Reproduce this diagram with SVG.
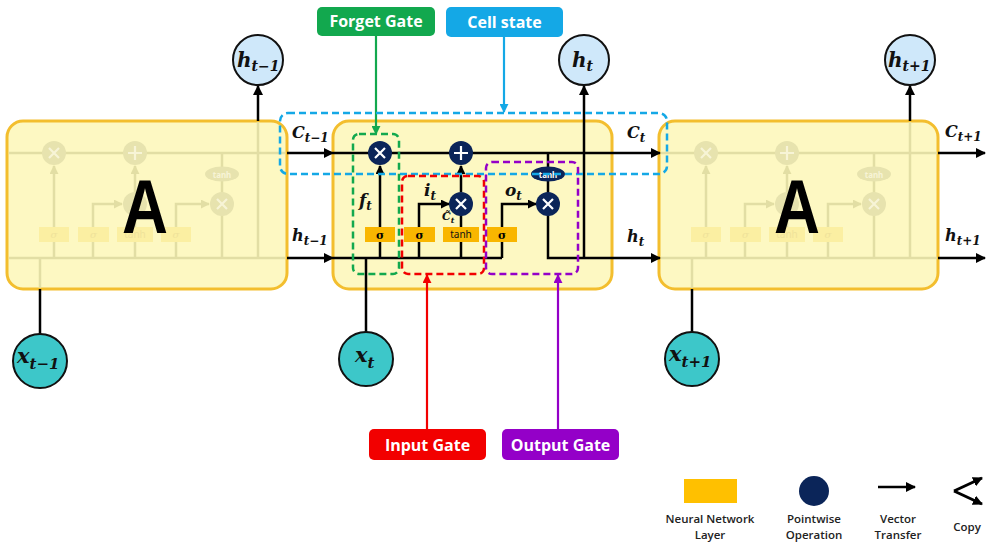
<svg xmlns="http://www.w3.org/2000/svg" xmlns:xlink="http://www.w3.org/1999/xlink" width="987" height="543" viewBox="0 0 987 543">
<style>
.box{fill:#FDF8C2;stroke:#F3BE2E;stroke-width:3}
.ln{fill:none;stroke:#000;stroke-width:2.5}
.fl{fill:none;stroke:#E2DEA4;stroke-width:2.5}
.op{fill:#0B2559}
.fop{fill:#E7E3AE}
.sym{stroke:#fff;stroke-width:2.2;fill:none}
.fsym{stroke:#F7F4D6;stroke-width:2.2;fill:none}
.sg{fill:#F9B600}
.fsg{fill:#FBEFA2}
.math{font-family:"DejaVu Serif","Liberation Serif",serif;font-weight:bold;font-style:italic;fill:#111}
.lbl{font-family:"Open Sans","Noto Sans",sans-serif;font-weight:bold;font-size:16px;fill:#fff;text-anchor:middle}
.leg{font-family:"Open Sans","Noto Sans",sans-serif;font-weight:600;font-size:11.5px;fill:#222;text-anchor:middle}
.hc{fill:#CFE8FA;stroke:#111;stroke-width:2}
.xc{fill:#3DC7C9;stroke:#111;stroke-width:2}
.dash{fill:none;stroke-width:2.5;stroke-dasharray:7 4}
</style>
<defs>
<marker id="ah" viewBox="0 0 10 10" refX="9" refY="5" markerWidth="10" markerHeight="10" markerUnits="userSpaceOnUse" orient="auto"><path d="M0,0 L10,5 L0,10 z" fill="#000"/></marker>
<marker id="ahs" viewBox="0 0 10 10" refX="9" refY="5" markerWidth="9" markerHeight="9" markerUnits="userSpaceOnUse" orient="auto"><path d="M0,0 L10,5 L0,10 z" fill="#000"/></marker>
<marker id="ahf" viewBox="0 0 10 10" refX="9" refY="5" markerWidth="9" markerHeight="9" markerUnits="userSpaceOnUse" orient="auto"><path d="M0,0 L10,5 L0,10 z" fill="#E2DEA4"/></marker>
<marker id="ahg" viewBox="0 0 10 10" refX="9" refY="5" markerWidth="9" markerHeight="9" markerUnits="userSpaceOnUse" orient="auto"><path d="M0,0 L10,5 L0,10 z" fill="#12A84E"/></marker>
<marker id="ahb" viewBox="0 0 10 10" refX="9" refY="5" markerWidth="9" markerHeight="9" markerUnits="userSpaceOnUse" orient="auto"><path d="M0,0 L10,5 L0,10 z" fill="#14A8E6"/></marker>
<marker id="ahr" viewBox="0 0 10 10" refX="9" refY="5" markerWidth="9" markerHeight="9" markerUnits="userSpaceOnUse" orient="auto"><path d="M0,0 L10,5 L0,10 z" fill="#F20000"/></marker>
<marker id="ahp" viewBox="0 0 10 10" refX="9" refY="5" markerWidth="9" markerHeight="9" markerUnits="userSpaceOnUse" orient="auto"><path d="M0,0 L10,5 L0,10 z" fill="#9400C8"/></marker>
<g id="faded">
<path class="fl" d="M335,153 L611,153 M335,258 L611,258 M584,122 L584,258 M366,258 L366,288 M548,153 L548,258"/>
<path class="fl" d="M380,258 L380,166" marker-end="url(#ahf)"/>
<path class="fl" d="M419,258 L419,204 L448,204" marker-end="url(#ahf)"/>
<path class="fl" d="M461,258 L461,166" marker-end="url(#ahf)"/>
<path class="fl" d="M502,258 L502,204 L535,204" marker-end="url(#ahf)"/>
<circle class="fop" cx="380" cy="153" r="12"/><path class="fsym" d="M375,148 L385,158 M385,148 L375,158"/>
<circle class="fop" cx="461" cy="153" r="12"/><path class="fsym" d="M461,146 L461,160 M454,153 L468,153"/>
<circle class="fop" cx="461" cy="204" r="12"/>
<circle class="fop" cx="548" cy="204" r="12"/><path class="fsym" d="M543,199 L553,209 M553,199 L543,209"/>
<ellipse class="fop" cx="548" cy="174" rx="17" ry="7.5"/>
<text x="548" y="177.5" font-family="Noto Sans,sans-serif" font-size="8" font-weight="bold" fill="#F7F4D6" text-anchor="middle">tanh</text>
<rect class="fsg" x="365" y="227" width="30" height="15"/>
<rect class="fsg" x="404" y="227" width="31" height="15"/>
<rect class="fsg" x="443" y="227" width="36" height="15"/>
<rect class="fsg" x="487" y="227" width="30" height="15"/>
<g font-family="DejaVu Serif,serif" font-size="10" font-style="italic" fill="#EFE29A" text-anchor="middle">
<text x="380" y="238">σ</text><text x="419.5" y="238">σ</text><text x="461" y="238" font-style="normal" font-family="Noto Sans,sans-serif">tanh</text><text x="502" y="238">σ</text></g>
</g>
</defs>

<g id="cell-prev">
<rect class="box" x="7" y="121" width="280" height="168" rx="16"/>
<use xlink:href="#faded" transform="translate(-326,0)"/>
<text x="145" y="233" font-family="Liberation Sans,Arial,sans-serif" font-weight="bold" font-size="76" textLength="46" lengthAdjust="spacingAndGlyphs" text-anchor="middle">A</text>
</g>

<g id="cell-next">
<rect class="box" x="659" y="121" width="279" height="168" rx="16"/>
<use xlink:href="#faded" transform="translate(326,0)"/>
<text x="797" y="233" font-family="Liberation Sans,Arial,sans-serif" font-weight="bold" font-size="76" textLength="46" lengthAdjust="spacingAndGlyphs" text-anchor="middle">A</text>
</g>

<g id="cell-current">
<rect class="box" x="333" y="121" width="279" height="168" rx="16"/>
</g>

<g id="connectors">
<path class="ln" d="M287,153 L333,153" marker-end="url(#ah)"/>
<path class="ln" d="M333,153 L660,153" marker-end="url(#ah)"/>
<path class="ln" d="M938,153 L985,153" marker-end="url(#ah)"/>
<path class="ln" d="M287,258 L333,258" marker-end="url(#ah)"/>
<path class="ln" d="M333,258 L502,258"/>
<path class="ln" d="M938,258 L985,258" marker-end="url(#ah)"/>
<path class="ln" d="M380,258 L380,166" marker-end="url(#ahs)"/>
<path class="ln" d="M419,258 L419,204 L449,204" marker-end="url(#ahs)"/>
<path class="ln" d="M461,258 L461,214"/>
<path class="ln" d="M461,192 L461,166" marker-end="url(#ahs)"/>
<path class="ln" d="M502,258 L502,204 L536,204" marker-end="url(#ahs)"/>
<path class="ln" d="M548,153 L548,194"/>
<path class="ln" d="M548,214 L548,258 L660,258" marker-end="url(#ah)"/>
<path class="ln" d="M584,258 L584,86" marker-end="url(#ah)"/>
<path class="ln" d="M258,121 L258,86" marker-end="url(#ah)"/>
<path class="ln" d="M910,121 L910,86" marker-end="url(#ah)"/>
<path class="ln" d="M40,289 L40,334"/>
<path class="ln" d="M366,258 L366,332"/>
<path class="ln" d="M692,289 L692,332"/>
<path d="M376,36 L376,134" stroke="#12A84E" stroke-width="2.2" fill="none" marker-end="url(#ahg)"/>
<path d="M504,37 L504,112" stroke="#14A8E6" stroke-width="2.2" fill="none" marker-end="url(#ahb)"/>
<path d="M427,429 L427,275" stroke="#F20000" stroke-width="2.2" fill="none" marker-end="url(#ahr)"/>
<path d="M558,429 L558,275" stroke="#9400C8" stroke-width="2.2" fill="none" marker-end="url(#ahp)"/>
</g>

<g id="forget-mult"><circle class="op" cx="380" cy="153" r="12"/><path class="sym" d="M375,148 L385,158 M385,148 L375,158"/></g>
<g id="cell-add"><circle class="op" cx="461" cy="153" r="12"/><path class="sym" d="M461,146 L461,160 M454,153 L468,153"/></g>
<g id="input-mult"><circle class="op" cx="461" cy="204" r="12"/><path class="sym" d="M456,199 L466,209 M466,199 L456,209"/></g>
<g id="output-mult"><circle class="op" cx="548" cy="204" r="12"/><path class="sym" d="M543,199 L553,209 M553,199 L543,209"/></g>
<g id="tanh-op"><ellipse class="op" cx="548" cy="174" rx="17" ry="7.5"/><text x="548" y="177.5" font-family="Noto Sans,sans-serif" font-size="8" font-weight="bold" fill="#fff" text-anchor="middle">tanh</text></g>
<g id="sigma-f"><rect class="sg" x="365" y="227" width="30" height="15"/><text x="380" y="238.5" font-family="DejaVu Serif,serif" font-weight="bold" font-size="11" text-anchor="middle">σ</text></g>
<g id="sigma-i"><rect class="sg" x="404" y="227" width="31" height="15"/><text x="419.5" y="238.5" font-family="DejaVu Serif,serif" font-weight="bold" font-size="11" text-anchor="middle">σ</text></g>
<g id="tanh-layer"><rect class="sg" x="443" y="227" width="36" height="15"/><text x="461" y="238" font-family="Noto Sans,sans-serif" font-size="10" fill="#111" text-anchor="middle">tanh</text></g>
<g id="sigma-o"><rect class="sg" x="487" y="227" width="30" height="15"/><text x="502" y="238.5" font-family="DejaVu Serif,serif" font-weight="bold" font-size="11" text-anchor="middle">σ</text></g>

<g id="gate-labels-math" class="math">
<text x="359" y="206" font-size="17">f<tspan font-size="12" dy="4">t</tspan></text>
<text x="424" y="196" font-size="17">i<tspan font-size="12" dy="4">t</tspan></text>
<text x="505" y="196" font-size="17">o<tspan font-size="12" dy="4">t</tspan></text>
<text x="442" y="220" font-size="11">C̃<tspan font-size="8" dy="3">t</tspan></text>
<text x="292" y="138" font-size="16">C<tspan font-size="12" dy="4">t−1</tspan></text>
<text x="292" y="241" font-size="16">h<tspan font-size="12" dy="4">t−1</tspan></text>
<text x="627" y="138" font-size="16">C<tspan font-size="12" dy="4">t</tspan></text>
<text x="627" y="242" font-size="16">h<tspan font-size="12" dy="4">t</tspan></text>
<text x="945" y="137" font-size="16">C<tspan font-size="12" dy="4">t+1</tspan></text>
<text x="945" y="241" font-size="16">h<tspan font-size="12" dy="4">t+1</tspan></text>
</g>

<g id="dashed-boxes">
<rect class="dash" x="280" y="113" width="387" height="61" rx="8" stroke="#14A8E6"/>
<rect class="dash" x="353" y="134" width="46" height="140" rx="6" stroke="#12A84E"/>
<rect class="dash" x="402" y="176" width="82" height="98" rx="6" stroke="#F20000"/>
<rect class="dash" x="486" y="162" width="92" height="112" rx="6" stroke="#9400C8"/>
</g>

<g id="h-prev"><circle class="hc" cx="258" cy="60" r="25"/><text class="math" x="237" y="67" font-size="20">h<tspan font-size="14" dy="4">t−1</tspan></text></g>
<g id="h-cur"><circle class="hc" cx="584" cy="60" r="25"/><text class="math" x="572" y="67" font-size="20">h<tspan font-size="14" dy="4">t</tspan></text></g>
<g id="h-next"><circle class="hc" cx="910" cy="60" r="25"/><text class="math" x="888" y="67" font-size="20">h<tspan font-size="14" dy="4">t+1</tspan></text></g>

<g id="x-prev"><circle class="xc" cx="40" cy="361" r="27"/><text class="math" x="17" y="363" font-size="21">x<tspan font-size="15" dy="6">t−1</tspan></text></g>
<g id="x-cur"><circle class="xc" cx="366" cy="359" r="27"/><text class="math" x="355" y="362" font-size="21">x<tspan font-size="15" dy="6">t</tspan></text></g>
<g id="x-next"><circle class="xc" cx="692" cy="359" r="27"/><text class="math" x="669" y="361" font-size="21">x<tspan font-size="15" dy="6">t+1</tspan></text></g>

<g id="label-forget"><rect x="317" y="7" width="118" height="29" rx="5" fill="#12A84E"/><text class="lbl" x="376" y="27">Forget Gate</text></g>
<g id="label-cell"><rect x="446" y="7" width="117" height="30" rx="5" fill="#14A8E6"/><text class="lbl" x="504.5" y="27.5">Cell state</text></g>
<g id="label-input"><rect x="369" y="429" width="117" height="31" rx="5" fill="#F20000"/><text class="lbl" x="427.5" y="450.5">Input Gate</text></g>
<g id="label-output"><rect x="502" y="429" width="117" height="31" rx="5" fill="#9400C8"/><text class="lbl" x="560.5" y="450.5">Output Gate</text></g>

<g id="legend">
<rect x="684" y="479" width="53" height="24" fill="#FFC000"/>
<text class="leg" x="710" y="523">Neural Network</text><text class="leg" x="710" y="539">Layer</text>
<circle cx="814" cy="491" r="15" fill="#0B2559"/>
<text class="leg" x="814" y="523">Pointwise</text><text class="leg" x="814" y="539">Operation</text>
<path d="M878,487 L915,487" stroke="#000" stroke-width="2.5" marker-end="url(#ah)"/>
<text class="leg" x="898" y="523">Vector</text><text class="leg" x="898" y="539">Transfer</text>
<path d="M954,491 L982,478" stroke="#000" stroke-width="3" fill="none" marker-end="url(#ah)"/>
<path d="M954,491 L982,504" stroke="#000" stroke-width="3" fill="none" marker-end="url(#ah)"/>
<text class="leg" x="967" y="531">Copy</text>
</g>
</svg>
